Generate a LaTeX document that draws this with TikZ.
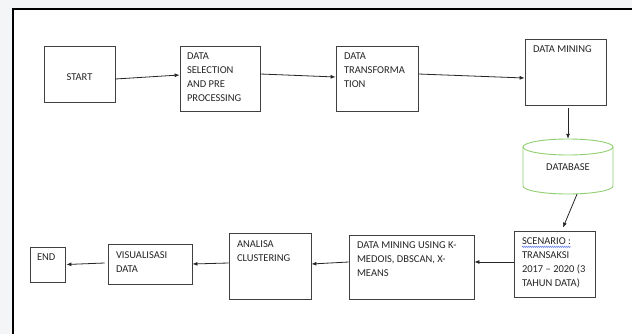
\documentclass[tikz,border=0pt]{standalone}
\usepackage{fontspec}
\setmainfont{Carlito}
\usetikzlibrary{arrows.meta,decorations.pathmorphing}
\definecolor{outerbg}{HTML}{F4F5F7}
\definecolor{dbgreen}{HTML}{8FCF6F}
\definecolor{boxline}{HTML}{404040}
\definecolor{spellblue}{HTML}{4A6BE0}
\tikzset{
  box/.style={draw=boxline, line width=0.8pt, rectangle, inner sep=0pt},
  txt/.style={inner sep=0pt, outer sep=0pt, align=left, anchor=north west,
    font=\fontsize{10.5}{14}\selectfont, text=black!85},
  conn/.style={draw=black!85, line width=0.8pt, -{Latex[length=5pt,width=4pt]}},
}
\begin{document}
\begin{tikzpicture}[x=1pt,y=-1pt]
\useasboundingbox (0,0) rectangle (632,334);
\fill[outerbg] (0,0) rectangle (632,334);
\fill[white] (13,9.5) rectangle (632,334);
\draw[line width=2pt, black] (632,9.5) -- (13,9.5) -- (13,334);

% boxes
\node[box, minimum width=71pt, minimum height=56pt] (start) at (79.5,74) {};
\node[box, minimum width=80pt, minimum height=65pt] (ds) at (220,78.5) {};
\node[box, minimum width=82pt, minimum height=65pt] (dt) at (377,78.5) {};
\node[box, minimum width=81pt, minimum height=66pt] (dm) at (565.5,72) {};
\node[inner sep=0pt, minimum width=90pt, minimum height=55pt] (db) at (568,166.5) {};
\node[box, minimum width=81pt, minimum height=66pt] (sc) at (554.5,264) {};
\node[box, minimum width=125pt, minimum height=64pt] (dmu) at (411.5,267) {};
\node[box, minimum width=82pt, minimum height=66pt] (an) at (270,266) {};
\node[box, minimum width=84pt, minimum height=40pt] (vis) at (150,264) {};
\node[box, minimum width=35pt, minimum height=35pt] (end) at (47.5,264.5) {};

% database cylinder
\draw[dbgreen, line width=0.9pt] (523,147) -- (523,186)
  arc[start angle=180, end angle=360, x radius=45pt, y radius=8pt]
  -- (613,147)
  arc[start angle=0, end angle=180, x radius=45pt, y radius=8pt] -- cycle;
\draw[dbgreen, line width=0.9pt] (523,147)
  arc[start angle=180, end angle=360, x radius=45pt, y radius=8pt];

% texts
\node[txt, anchor=center] (tstart) at (79.5,77) {START};
\node[txt] (tds) at (187,53) {DATA\\SELECTION\\AND PRE\\PROCESSING};
\node[txt] (tdt) at (344,53) {DATA\\TRANSFORMA\\TION};
\node[txt] (tdm) at (533,46) {DATA MINING};
\node[txt, anchor=center] (tdb) at (568,167) {DATABASE};
\node[txt] (tsc) at (522,238) {SCENARIO :\\TRANSAKSI\\2017 – 2020 (3\\TAHUN DATA)};
\node[txt] (tdmu) at (357,242) {DATA MINING USING K-\\MEDOIS, DBSCAN, X-\\MEANS};
\node[txt] (tan) at (237,241) {ANALISA\\CLUSTERING};
\node[txt] (tvis) at (116,252) {VISUALISASI\\DATA};
\node[txt] (tend) at (37,254) {END};

% spell-check underline
\coordinate (w1) at (522,246.8);
\coordinate (w2) at (571,246.8);
\draw[spellblue, line width=0.5pt, decorate,
  decoration={snake, amplitude=0.6pt, segment length=2pt}] (w1) -- (w2);

% connectors
\draw[conn] ([yshift=-5pt]start.east) -- ([yshift=3.5pt]ds.west);
\draw[conn] ([yshift=4.5pt]ds.east) -- ([yshift=1.5pt]dt.west);
\draw[conn] ([yshift=4.5pt]dt.east) -- ([yshift=-6pt]dm.west);
\draw[conn] ([shift={(2.5pt,-3pt)}]dm.south) -- (db.north);
\draw[conn] ([xshift=9pt]db.south) -- ([shift={(8.5pt,3pt)}]sc.north);
\draw[conn] ([yshift=2pt]sc.west) -- ([yshift=5pt]dmu.east);
\draw[conn] ([yshift=5pt]dmu.west) -- ([yshift=2pt]an.east);
\draw[conn] ([yshift=3pt]an.west) -- (vis.east);
\draw[conn] ([shift={(-3pt,1pt)}]vis.west) -- ([xshift=1pt]end.east);
\end{tikzpicture}
\end{document}
